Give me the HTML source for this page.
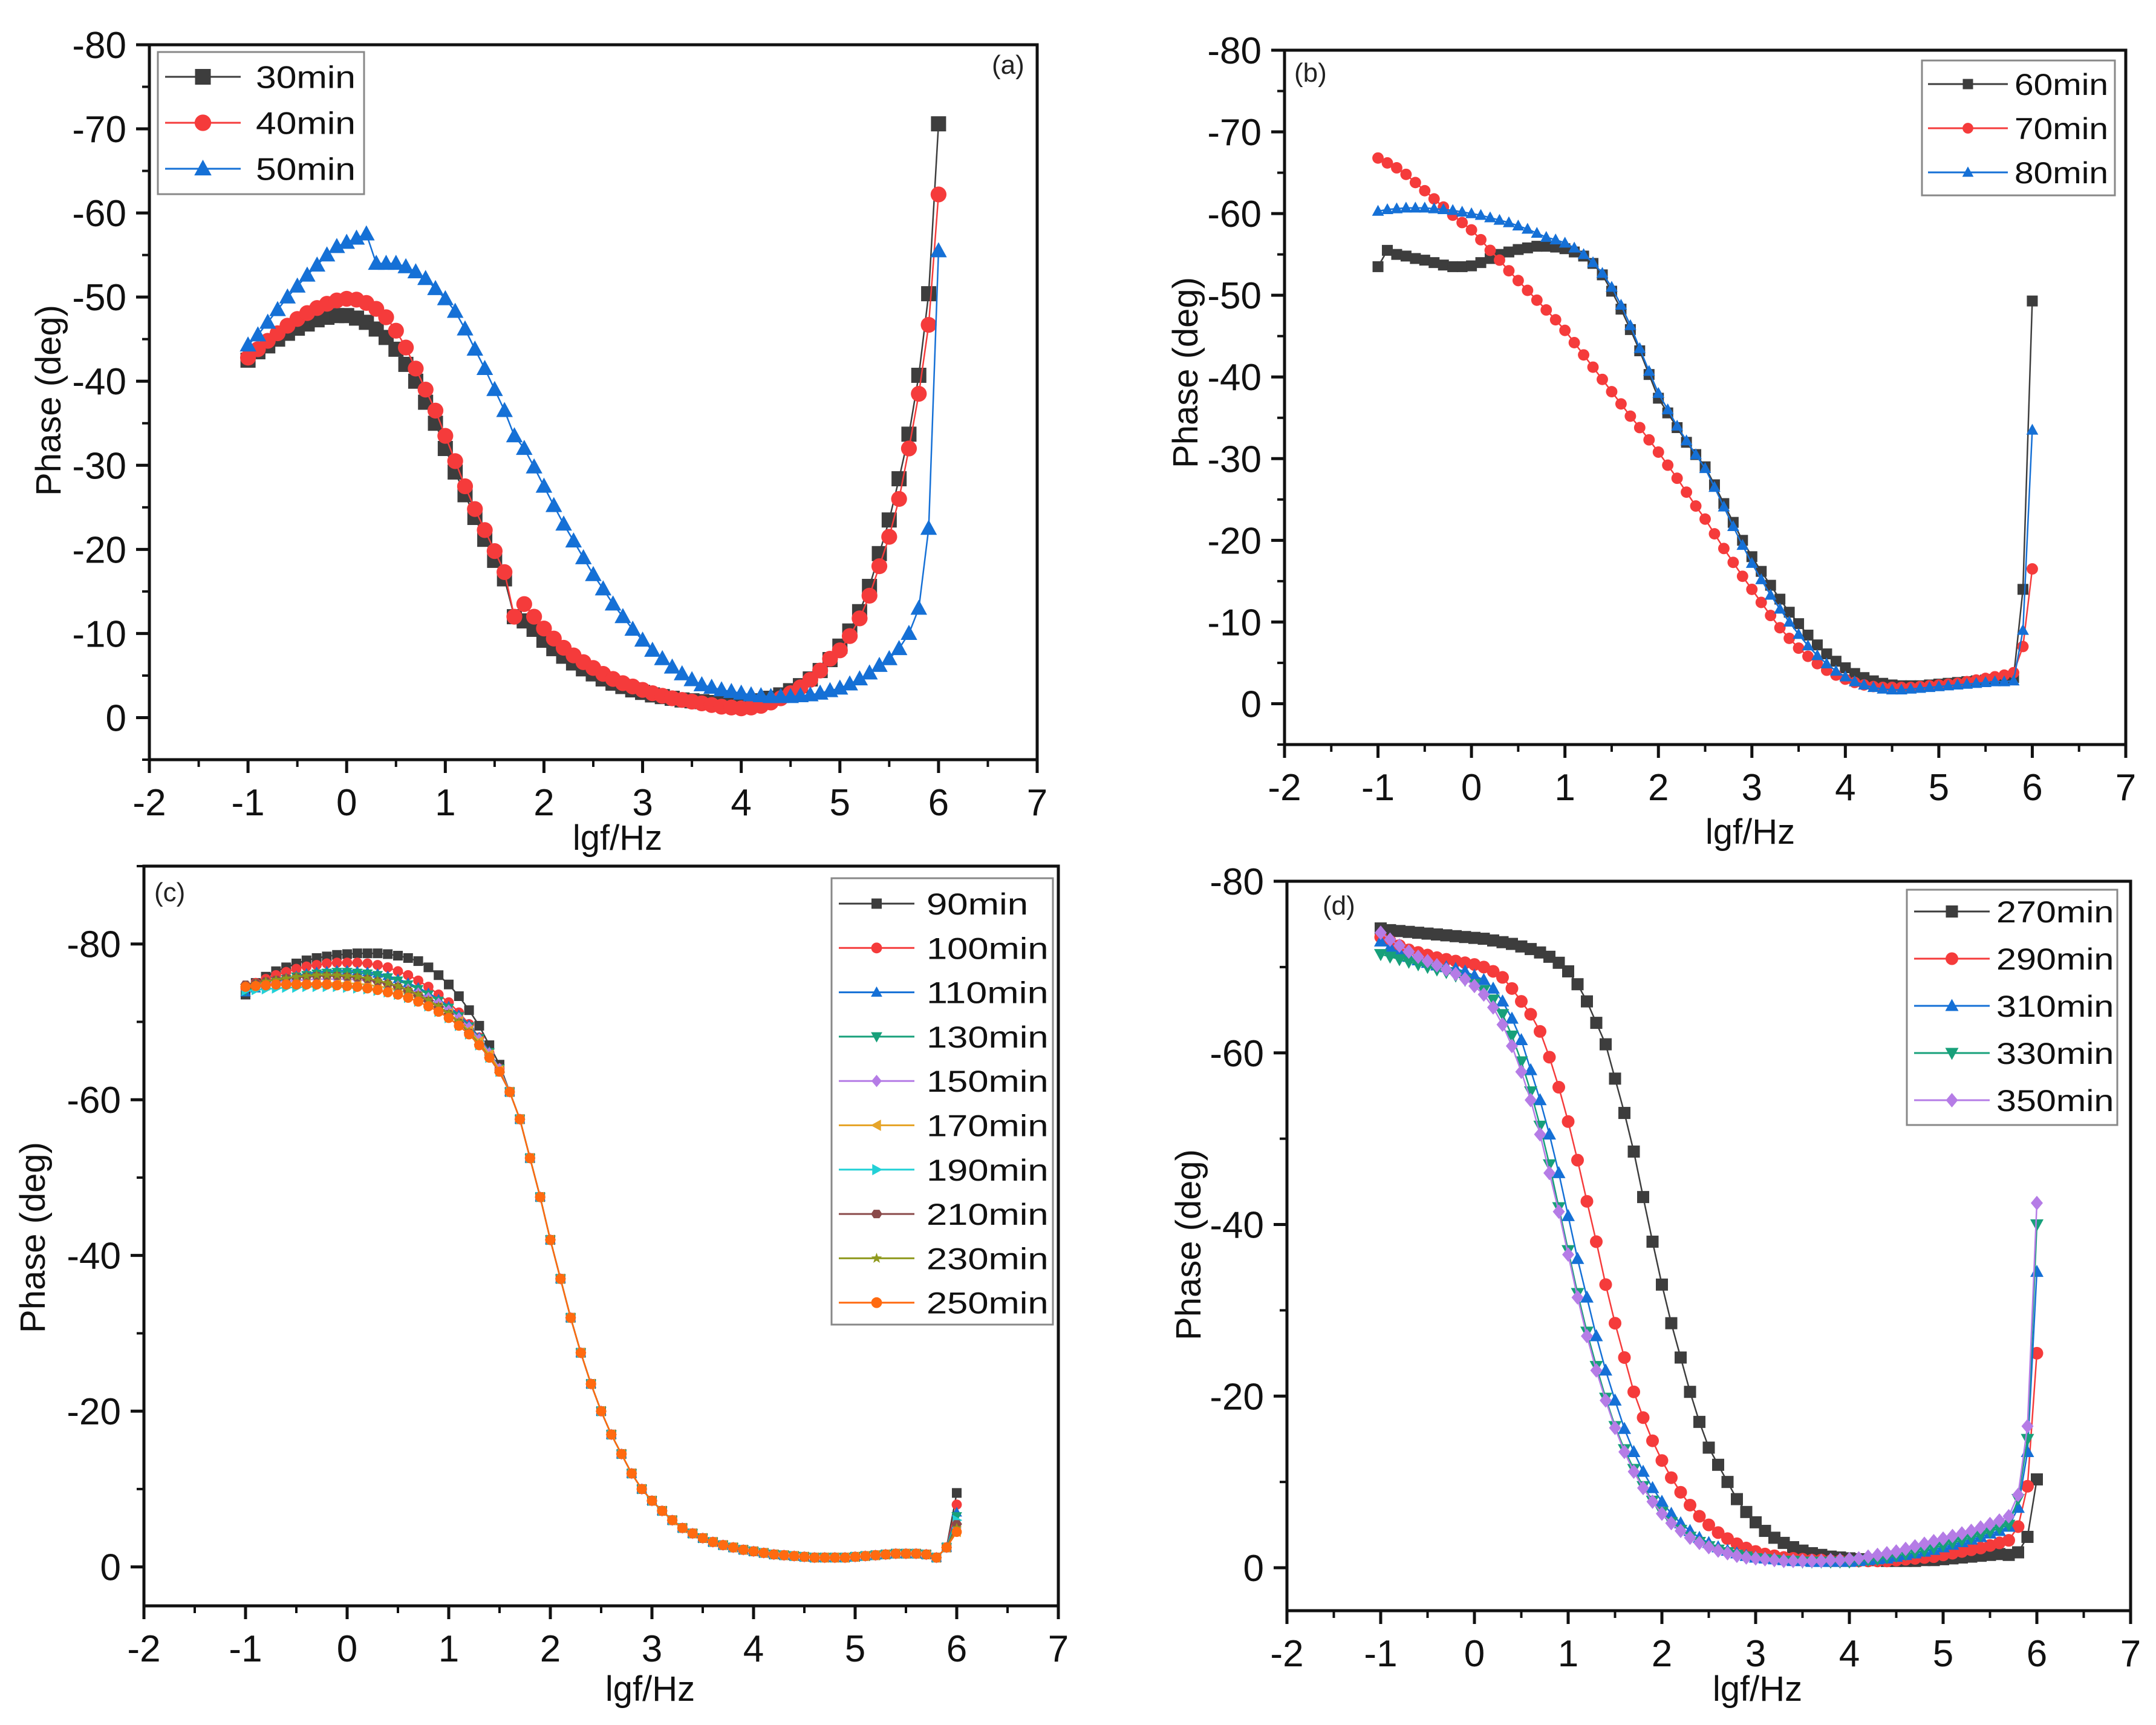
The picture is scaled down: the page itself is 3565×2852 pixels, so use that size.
<!DOCTYPE html>
<html><head><meta charset="utf-8"><style>
html,body{margin:0;padding:0;background:#fff;}
svg{display:block;font-family:"Liberation Sans",Arial,sans-serif;}
</style></head><body>
<svg id="fig" width="3565" height="2852" viewBox="0 0 3565 2852" xmlns="http://www.w3.org/2000/svg"></svg>
<script>
const lgf = [-1.0,-0.9,-0.8,-0.7,-0.6,-0.5,-0.4,-0.3,-0.2,-0.1,0.0,0.1,0.2,0.3,0.4,0.5,0.6,0.7,0.8,0.9,1.0,1.1,1.2,1.3,1.4,1.5,1.6,1.7,1.8,1.9,2.0,2.1,2.2,2.3,2.4,2.5,2.6,2.7,2.8,2.9,3.0,3.1,3.2,3.3,3.4,3.5,3.6,3.7,3.8,3.9,4.0,4.1,4.2,4.3,4.4,4.5,4.6,4.7,4.8,4.9,5.0,5.1,5.2,5.3,5.4,5.5,5.6,5.7,5.8,5.9,6.0];
const xTicks = [-2,-1,0,1,2,3,4,5,6,7];

// Panel (a)
const a30 = [-42.5,-43.5,-44.2,-45,-45.7,-46.3,-46.8,-47.3,-47.6,-47.8, -47.8,-47.5,-47,-46.2,-45.2,-43.8,-42,-40,-37.5,-35, -32,-29.2,-26.5,-23.8,-21.2, -18.7,-16.5,-12,-11.5,-10.5, -9.2,-8.2,-7.3,-6.5,-5.8, -5.2,-4.6,-4.1,-3.7,-3.3, -3,-2.7,-2.5,-2.3,-2.1, -2,-1.9,-1.8,-1.7,-1.7, -1.7,-1.8,-2,-2.3,-2.7, -3.2,-3.8,-4.6,-5.6,-6.9, -8.5,-10.3,-12.6,-15.6,-19.5, -23.5,-28.4,-33.7,-40.7,-50.4, -70.6];
const a40 = [-42.8,-43.8,-44.8,-45.7,-46.6,-47.4,-48.1,-48.7,-49.2,-49.6, -49.8,-49.7,-49.3,-48.6,-47.6,-46,-44,-41.5,-39,-36.5, -33.5,-30.5,-27.5,-24.8,-22.3, -19.8,-17.3,-12,-13.5,-12, -10.6,-9.4,-8.3,-7.4,-6.6, -5.9,-5.2,-4.6,-4.1,-3.7, -3.3,-2.9,-2.6,-2.3,-2.1, -1.9,-1.7,-1.5,-1.3,-1.2, -1.1,-1.2,-1.4,-1.8,-2.3, -2.9,-3.6,-4.5,-5.6,-7, -8,-9.7,-11.8,-14.5,-18, -21.5,-26,-32,-38.5,-46.7, -62.2];
const a50 = [-44.3,-45.5,-47,-48.5,-50,-51.3,-52.6,-53.8,-55,-56, -56.5,-57,-57.5,-54,-54,-54,-53.6,-53,-52.2,-51, -49.8,-48.3,-46.2,-43.8,-41.5, -39,-36.5,-33.5,-32,-29.8, -27.5,-25.2,-23,-21,-19, -17,-15.3,-13.5,-12,-10.5, -9.2,-8,-7,-6,-5.2, -4.5,-3.9,-3.6,-3.3,-3.1, -2.9,-2.7,-2.6,-2.5,-2.5, -2.5,-2.6,-2.7,-2.9,-3.2, -3.5,-4,-4.6,-5.3,-6.2, -7,-8.2,-10,-13,-22.5, -55.5];

// Panel (b)
const b60 = [-53.5,-55.5,-55,-54.8,-54.5,-54.3,-54,-53.7,-53.5,-53.5, -53.6,-54,-54.5,-55,-55.3,-55.6,-55.8,-56,-56,-55.9, -55.7,-55.3,-54.8,-53.9,-52.5, -50.5,-48.3,-45.8,-43.2,-40.3, -37.4,-35.6,-33.8,-32,-30.5, -29,-26.8,-24.5,-22.2,-20, -18,-16.2,-14.5,-12.8,-11.2, -9.8,-8.4,-7.2,-6.1,-5.2, -4.4,-3.7,-3.2,-2.8,-2.5, -2.3,-2.2,-2.2,-2.2,-2.3, -2.4,-2.5,-2.6,-2.7,-2.8, -2.9,-3,-3.1,-3.2,-14, -49.3];
const b70 = [-66.8,-66.2,-65.6,-64.8,-63.8,-62.8,-61.8,-60.8,-59.8,-58.9, -58,-56.8,-55.5,-54.3,-53,-51.8,-50.6,-49.4,-48.2,-47, -45.7,-44.2,-42.7,-41.2,-39.7, -38.2,-36.7,-35.2,-33.8,-32.3, -30.8,-29.2,-27.6,-25.9,-24.2, -22.6,-20.8,-19,-17.3,-15.6, -14,-12.4,-10.8,-9.3,-8, -6.8,-5.8,-4.9,-4.1,-3.5, -3,-2.6,-2.3,-2.1,-2, -2,-2,-2,-2.1,-2.2, -2.3,-2.4,-2.5,-2.7,-2.9, -3.1,-3.3,-3.5,-3.8,-7, -16.5];
const b80 = [-60.3,-60.5,-60.6,-60.7,-60.7,-60.7,-60.6,-60.5,-60.4,-60.2, -60,-59.8,-59.5,-59.2,-58.9,-58.5,-58.1,-57.6,-57.1,-56.8, -56.4,-55.8,-55,-54,-52.7, -51,-48.8,-46.3,-43.5,-40.7, -38,-36,-34,-32.2,-30.5, -28.8,-26.5,-24.1,-21.7,-19.4, -17.2,-15.2,-13.3,-11.6,-10, -8.5,-7.1,-5.9,-4.9,-4, -3.3,-2.7,-2.3,-2,-1.8, -1.7,-1.7,-1.8,-1.9,-2, -2.1,-2.2,-2.3,-2.4,-2.5, -2.6,-2.7,-2.7,-2.8,-9, -33.5];

// Panel (c): low-frequency part (lgf -1.0..1.5) per series, shared high-frequency part (1.6..5.9), and value at 6.0
const c90h  = [-73.5,-75,-75.8,-76.5,-77,-77.5,-77.9,-78.2,-78.4,-78.6,-78.7,-78.8,-78.8,-78.8,-78.7,-78.5,-78.2,-77.8,-77,-76,-74.8,-73.3,-71.5,-69.5,-67,-64.5];
const c100h = [-74.3,-75,-75.5,-76,-76.4,-76.8,-77.1,-77.3,-77.5,-77.6,-77.6,-77.6,-77.5,-77.3,-77,-76.5,-76,-75.3,-74.5,-73.5,-72.5,-71.2,-69.7,-68,-66,-64];
const c110h = [-73.8,-74.3,-74.8,-75.2,-75.6,-75.9,-76.2,-76.4,-76.5,-76.6,-76.6,-76.5,-76.4,-76.2,-75.9,-75.5,-75,-74.4,-73.7,-72.9,-72,-70.9,-69.6,-68,-66.2,-64];
const c130h = [-74,-74.4,-74.8,-75.2,-75.5,-75.8,-76,-76.2,-76.3,-76.4,-76.4,-76.3,-76.2,-76,-75.7,-75.3,-74.8,-74.2,-73.5,-72.7,-71.8,-70.7,-69.4,-67.9,-66.1,-64];
const c150h = [-74.5,-74.7,-74.9,-75.1,-75.2,-75.3,-75.4,-75.5,-75.5,-75.5,-75.5,-75.4,-75.3,-75.1,-74.9,-74.6,-74.2,-73.7,-73.1,-72.4,-71.5,-70.5,-69.3,-67.8,-66,-64];
const c170h = [-74.5,-74.6,-74.7,-74.8,-74.9,-75,-75,-75,-75,-75,-75,-74.9,-74.8,-74.6,-74.4,-74.1,-73.7,-73.2,-72.6,-71.9,-71.1,-70.1,-68.9,-67.5,-65.8,-63.8];
const c190h = [-74,-74.1,-74.2,-74.3,-74.4,-74.4,-74.5,-74.5,-74.5,-74.5,-74.4,-74.3,-74.2,-74,-73.8,-73.5,-73.1,-72.6,-72,-71.3,-70.5,-69.5,-68.4,-67,-65.4,-63.6];
const c210h = [-74.8,-75,-75.2,-75.4,-75.6,-75.7,-75.8,-75.9,-75.9,-75.9,-75.8,-75.7,-75.5,-75.2,-74.9,-74.5,-74,-73.4,-72.7,-71.9,-71,-69.9,-68.6,-67.1,-65.4,-63.5];
const c230h = [-74.6,-74.9,-75.2,-75.4,-75.6,-75.8,-75.9,-76,-76,-76,-75.9,-75.8,-75.6,-75.3,-75,-74.6,-74.1,-73.5,-72.8,-72,-71.1,-70,-68.7,-67.2,-65.5,-63.6];
const c250h = [-74.5,-74.6,-74.7,-74.8,-74.8,-74.8,-74.8,-74.8,-74.8,-74.7,-74.6,-74.5,-74.3,-74.1,-73.8,-73.5,-73.1,-72.6,-72,-71.3,-70.5,-69.5,-68.4,-67,-65.4,-63.6];
const cTail = [-61,-57.5,-52.5,-47.5,-42, -37,-32,-27.5,-23.5,-20, -17,-14.5,-12,-10,-8.5, -7.2,-6,-5,-4.3,-3.7, -3.2,-2.8,-2.5,-2.2,-2, -1.8,-1.6,-1.5,-1.4,-1.3, -1.2,-1.2,-1.2,-1.2,-1.3, -1.4,-1.5,-1.6,-1.7,-1.7, -1.7,-1.6,-1.2,-2.5];
const cEnd = [-9.5,-8,-7,-6.5,-5,-4.5,-6,-5.5,-5,-4.5];

// Panel (d)
const d270 = [-74.5,-74.3,-74.2,-74.1,-74,-73.9,-73.8,-73.7,-73.6,-73.5, -73.4,-73.3,-73.1,-72.9,-72.7,-72.4,-72.1,-71.7,-71.2,-70.5, -69.5,-68,-66,-63.5,-61, -57,-53,-48.5,-43.2,-38, -33,-28.5,-24.5,-20.5,-17, -14,-12,-10,-8,-6.5, -5.3,-4.3,-3.5,-2.9,-2.4, -2,-1.7,-1.5,-1.3,-1.2, -1.1,-1,-0.9,-0.9,-0.8, -0.8,-0.8,-0.8,-0.9,-0.9, -1,-1.1,-1.2,-1.3,-1.4, -1.5,-1.6,-1.5,-1.8,-3.6, -10.3];
const d290 = [-73.5,-73,-72.5,-72,-71.7,-71.4,-71.1,-70.9,-70.7,-70.5, -70.3,-70,-69.5,-68.8,-67.5,-66,-64.5,-62.5,-59.5,-56, -52,-47.5,-42.7,-38,-33, -28.5,-24.5,-20.5,-17.5,-14.8, -12.5,-10.5,-8.8,-7.3,-6, -5,-4.1,-3.4,-2.8,-2.3, -1.9,-1.6,-1.4,-1.2,-1.1, -1,-0.9,-0.9,-0.8,-0.8, -0.8,-0.8,-0.8,-0.8,-0.8, -0.9,-1,-1.1,-1.2,-1.3, -1.5,-1.7,-1.9,-2.1,-2.3, -2.6,-2.9,-3.2,-4.8,-9.5, -25];
const d310 = [-73,-72.3,-71.7,-71.2,-70.8,-70.5,-70.2,-70,-69.8,-69.5, -69,-68.5,-67.5,-66,-64,-61.5,-58,-54.5,-50.5,-46, -41,-36,-31.5,-27,-23, -19.5,-16.2,-13.5,-11.2,-9.3, -7.7,-6.3,-5.2,-4.3,-3.5, -2.9,-2.4,-2,-1.7,-1.4, -1.2,-1.1,-1,-0.9,-0.8, -0.8,-0.7,-0.7,-0.7,-0.7, -0.7,-0.8,-0.9,-1,-1.1, -1.3,-1.5,-1.7,-1.9,-2.1, -2.4,-2.7,-3,-3.3,-3.6, -4,-4.3,-4.8,-7,-13.5, -34.5];
const d330 = [-71.5,-71.2,-70.9,-70.6,-70.3,-70,-69.7,-69.4,-69,-68.5, -68,-67.3,-66.2,-64.5,-62,-59,-55.5,-51.5,-47,-42, -37,-32,-27.5,-23.5,-19.8, -16.5,-13.8,-11.5,-9.5,-7.8, -6.5,-5.3,-4.4,-3.6,-3, -2.5,-2.1,-1.8,-1.5,-1.3, -1.1,-1,-0.9,-0.8,-0.8, -0.7,-0.7,-0.7,-0.7,-0.7, -0.7,-0.8,-0.9,-1,-1.2, -1.4,-1.6,-1.8,-2,-2.3, -2.6,-2.9,-3.2,-3.5,-3.8, -4.2,-4.6,-5,-8,-15, -40];
const d350 = [-74,-73.2,-72.5,-71.8,-71.2,-70.7,-70.2,-69.7,-69.2,-68.6, -67.8,-66.8,-65.3,-63.3,-60.8,-57.8,-54.5,-50.5,-46,-41.5, -36.5,-31.5,-27,-23,-19.5, -16.3,-13.5,-11.2,-9.3,-7.7, -6.3,-5.2,-4.3,-3.5,-2.9, -2.4,-2,-1.7,-1.4,-1.2, -1.1,-1,-0.9,-0.8,-0.8, -0.8,-0.8,-0.8,-0.9,-0.9, -1,-1.1,-1.3,-1.5,-1.7, -1.9,-2.2,-2.5,-2.8,-3.1, -3.4,-3.7,-4,-4.3,-4.7, -5.1,-5.5,-6,-8.5,-16.5, -42.5];

const cLabels = ['90min','100min','110min','130min','150min','170min','190min','210min','230min','250min'];
const cHeads = [c90h,c100h,c110h,c130h,c150h,c170h,c190h,c210h,c230h,c250h];

const NS = 'http://www.w3.org/2000/svg';
const svg = document.getElementById('fig');
function mk(tag, attrs, parent){ const e=document.createElementNS(NS,tag); for(const k in attrs) e.setAttribute(k,attrs[k]); (parent||svg).appendChild(e); return e; }

function marker(g, shape, cx, cy, s, color){
  let e;
  const h=s/2;
  if(shape==='square') e=mk('rect',{x:cx-h,y:cy-h,width:s,height:s,fill:color},g);
  else if(shape==='circle') e=mk('circle',{cx:cx,cy:cy,r:h*1.05,fill:color},g);
  else if(shape==='up') e=mk('polygon',{points:`${cx},${cy-h*1.15} ${cx-h*1.1},${cy+h*0.85} ${cx+h*1.1},${cy+h*0.85}`,fill:color},g);
  else if(shape==='down') e=mk('polygon',{points:`${cx},${cy+h*1.15} ${cx-h*1.1},${cy-h*0.85} ${cx+h*1.1},${cy-h*0.85}`,fill:color},g);
  else if(shape==='diamond') e=mk('polygon',{points:`${cx},${cy-h*1.2} ${cx+h},${cy} ${cx},${cy+h*1.2} ${cx-h},${cy}`,fill:color},g);
  else if(shape==='left') e=mk('polygon',{points:`${cx-h*1.15},${cy} ${cx+h*0.85},${cy-h*1.1} ${cx+h*0.85},${cy+h*1.1}`,fill:color},g);
  else if(shape==='right') e=mk('polygon',{points:`${cx+h*1.15},${cy} ${cx-h*0.85},${cy-h*1.1} ${cx-h*0.85},${cy+h*1.1}`,fill:color},g);
  else if(shape==='star'){ let p=[]; for(let i=0;i<10;i++){const r=i%2?h*0.45:h*1.1; const a=-Math.PI/2+i*Math.PI/5; p.push((cx+r*Math.cos(a)).toFixed(1)+','+(cy+r*Math.sin(a)).toFixed(1));} e=mk('polygon',{points:p.join(' '),fill:color},g); }
  else if(shape==='hex'){ let p=[]; for(let i=0;i<6;i++){const a=i*Math.PI/3; p.push((cx+h*1.1*Math.cos(a)).toFixed(1)+','+(cy+h*0.95*Math.sin(a)).toFixed(1));} e=mk('polygon',{points:p.join(' '),fill:color},g); }
  else e=mk('circle',{cx:cx,cy:cy,r:h,fill:color},g);
  
  
  return e;
}

function panel(cfg){
  const g = mk('g',{});
  
  
  const {L,R,T,B,ymin,ymax,yMaj,yMin} = cfg;
  const X = v => L + (v - (-2)) / 9 * (R - L);
  const Y = v => T + (v - ymin) / (ymax - ymin) * (B - T);
  cfg.series.forEach((s,si)=>{
    const sg = mk('g',{},g);
    
    
    const pts = s.values.map((v,i)=>X(lgf[i]).toFixed(1)+','+Y(v).toFixed(1)).join(' ');
    const pl = mk('polyline',{points:pts,fill:'none',stroke:s.color,'stroke-width':2.5},sg);
    
    
    s.values.forEach((v,i)=>marker(sg,s.shape,X(lgf[i]),Y(v),cfg.ms,s.color));
  });
  const ax = mk('g',{},g);
  
  
  mk('rect',{x:L,y:T,width:R-L,height:B-T,fill:'none',stroke:'#111','stroke-width':5},ax);
  xTicks.forEach(t=>{
    const x=X(t);
    mk('line',{x1:x,y1:B,x2:x,y2:B+22,stroke:'#111','stroke-width':5},ax);
    if(t<7) mk('line',{x1:X(t+0.5),y1:B,x2:X(t+0.5),y2:B+12,stroke:'#111','stroke-width':4},ax);
    const tx = mk('text',{x:x,y:B+92,'font-size':62,'text-anchor':'middle',fill:'#111'},ax);
    tx.textContent = String(t);
    
    
  });
  for(let v=ymin; v<=ymax+0.001; v+=yMin){
    const y=Y(v);
    const isMaj = Math.abs(Math.round(v/yMaj)*yMaj - v) < 0.001;
    mk('line',{x1:L,y1:y,x2:L-(isMaj?22:12),y2:y,stroke:'#111','stroke-width':isMaj?5:4},ax);
    if(isMaj && cfg.yLabels.includes(v)){
      const ty = mk('text',{x:L-38,y:y+22,'font-size':62,'text-anchor':'end',fill:'#111'},ax);
      ty.textContent = String(v);
      
      
    }
  }
  const xt = mk('text',{x:cfg.xtx,y:cfg.xty,'font-size':58,'text-anchor':'middle',fill:'#111'},g);
  xt.textContent='lgf/Hz';
  
  
  const yt = mk('text',{x:0,y:0,'font-size':58,'text-anchor':'middle',fill:'#111',transform:`translate(${cfg.ytx},${cfg.yty}) rotate(-90)`},g);
  yt.textContent='Phase (deg)';
  
  
  const pt = mk('text',{x:cfg.tagX,y:cfg.tagY,'font-size':44,fill:'#222'},g);
  pt.textContent='(' + cfg.id + ')';
  
  
  const lg = cfg.leg;
  const lgG = mk('g',{},g);
  
  
  mk('rect',{x:lg.x,y:lg.y,width:lg.w,height:lg.h,fill:'#fff',stroke:'#888','stroke-width':3},lgG);
  cfg.series.forEach((s,i)=>{
    const ey = lg.y0 + i*lg.dy;
    const eg = mk('g',{},lgG);
    
    
    mk('line',{x1:lg.l1,y1:ey,x2:lg.l2,y2:ey,stroke:s.color,'stroke-width':3},eg);
    marker(eg,s.shape,(lg.l1+lg.l2)/2,ey,lg.ms,s.color);
    const t = mk('text',{x:lg.tx,y:ey+lg.fs*0.36,'font-size':lg.fs,fill:'#111',textLength:lg.tl*s.label.length/5,lengthAdjust:'spacingAndGlyphs'},eg);
    t.textContent = s.label;
  });
}

const BK='#3d3d3d', RD='#f53b3b', BL='#1570d6', GR='#17a07a', PU='#b57ce6';

panel({id:'a',L:247,R:1715,T:74,B:1256,ymin:-80,ymax:5,yMaj:10,yMin:5,yLabels:[-80,-70,-60,-50,-40,-30,-20,-10,0],ms:25,
  xtx:1021,xty:1405,ytx:100,yty:662,tagX:1640,tagY:122,
  leg:{x:261,y:86,w:341,h:235,y0:127,dy:76,l1:273,l2:398,ms:26,tx:423,fs:52,tl:165},
  series:[{label:'30min',values:a30,color:BK,shape:'square'},{label:'40min',values:a40,color:RD,shape:'circle'},{label:'50min',values:a50,color:BL,shape:'up'}]});

panel({id:'b',L:2124,R:3515,T:83,B:1231,ymin:-80,ymax:5,yMaj:10,yMin:5,yLabels:[-80,-70,-60,-50,-40,-30,-20,-10,0],ms:18,
  xtx:2894,xty:1395,ytx:1980,yty:616,tagX:2140,tagY:135,
  leg:{x:3178,y:100,w:319,h:223,y0:139,dy:73,l1:3188,l2:3320,ms:17,tx:3331,fs:50,tl:155},
  series:[{label:'60min',values:b60,color:BK,shape:'square'},{label:'70min',values:b70,color:RD,shape:'circle'},{label:'80min',values:b80,color:BL,shape:'up'}]});

const cColors=['#3d3d3d','#f53b3b','#1570d6','#17a07a','#b57ce6','#e6a52a','#22d0d6','#8a4a4a','#8f9a1e','#ff6a10'];
const cShapes=['square','circle','up','down','diamond','left','right','hex','star','circle'];
const cSeries = cLabels.map((lab,i)=>({label:lab,values:cHeads[i].concat(cTail,[cEnd[i]]),color:cColors[i],shape:cShapes[i]}));
panel({id:'c',L:238,R:1750,T:1432,B:2655,ymin:-90,ymax:5,yMaj:20,yMin:10,yLabels:[-80,-60,-40,-20,0],ms:16,
  xtx:1075,xty:2812,ytx:74,yty:2046,tagX:255,tagY:1490,
  leg:{x:1375,y:1452,w:366,h:738,y0:1494,dy:73.3,l1:1387,l2:1512,ms:17,tx:1532,fs:50,tl:168},
  series:cSeries});

panel({id:'d',L:2128,R:3523,T:1457,B:2663,ymin:-80,ymax:5,yMaj:20,yMin:10,yLabels:[-80,-60,-40,-20,0],ms:20,
  xtx:2906,xty:2812,ytx:1985,yty:2058,tagX:2187,tagY:1512,
  leg:{x:3153,y:1471,w:348,h:389,y0:1507,dy:78,l1:3165,l2:3290,ms:20,tx:3301,fs:50,tl:162},
  series:[{label:'270min',values:d270,color:BK,shape:'square'},{label:'290min',values:d290,color:RD,shape:'circle'},{label:'310min',values:d310,color:BL,shape:'up'},{label:'330min',values:d330,color:GR,shape:'down'},{label:'350min',values:d350,color:PU,shape:'diamond'}]});
</script>
</body></html>
